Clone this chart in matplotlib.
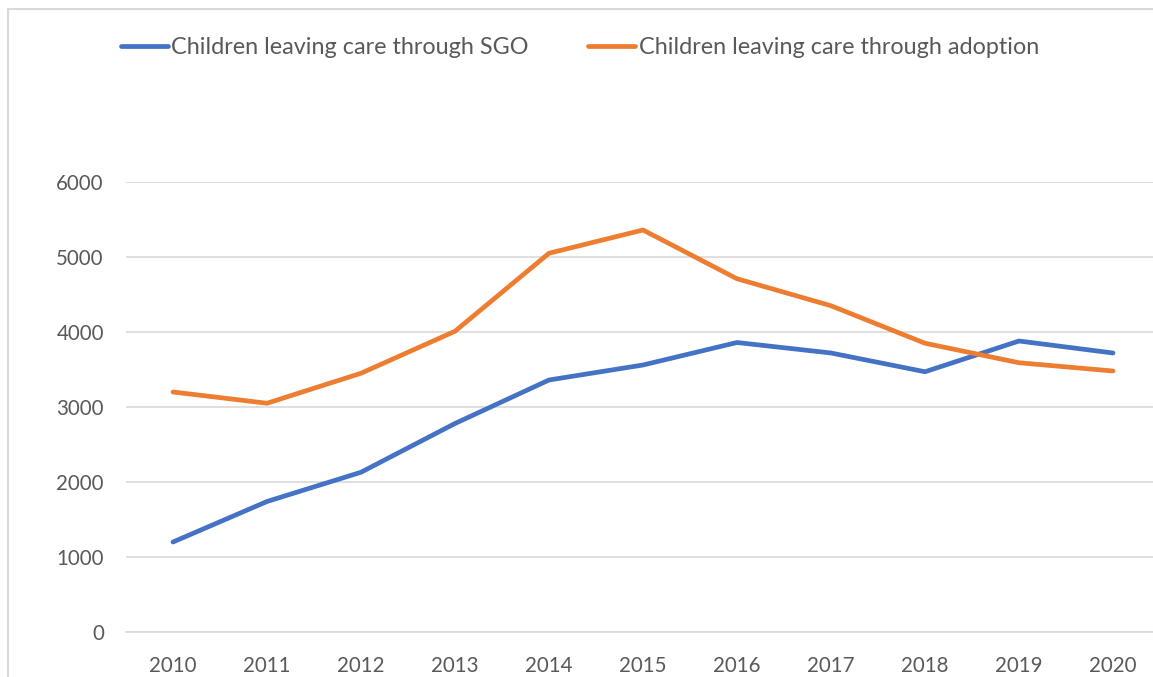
import matplotlib
matplotlib.use("Agg")
import matplotlib.pyplot as plt
from matplotlib.patches import Rectangle

years = ["2010", "2011", "2012", "2013", "2014", "2015", "2016", "2017", "2018", "2019", "2020"]
sgo = [1200, 1740, 2130, 2780, 3360, 3560, 3860, 3720, 3470, 3880, 3720]
adoption = [3200, 3050, 3450, 4010, 5050, 5360, 4710, 4350, 3850, 3590, 3480]
series_names = ["Children leaving care through SGO", "Children leaving care through adoption"]
yticks = [0, 1000, 2000, 3000, 4000, 5000, 6000]

plt.rcParams['font.family'] = ['Lato', 'DejaVu Sans']
W, H = 1153, 677
fig = plt.figure(figsize=(W / 100, H / 100), dpi=100)

# outer chart frame
fig.patches.append(Rectangle((8 / W, -0.1), 1.2, (H - 9) / H + 0.1, transform=fig.transFigure,
                             fill=False, edgecolor='#D9D9D9', linewidth=1.5))

ax = fig.add_axes([126 / W, (H - 632) / H, (1160 - 126) / W, (632 - 182) / H])
x = list(range(len(years)))
ax.plot(x, sgo, color='#4472C4', linewidth=3.4, solid_capstyle='round', solid_joinstyle='round',
        label=series_names[0])
ax.plot(x, adoption, color='#ED7D31', linewidth=3.4, solid_capstyle='round', solid_joinstyle='round',
        label=series_names[1])

ax.set_xlim(-0.5, len(years) - 0.5)
ax.set_ylim(0, 6000)
ax.set_yticks(yticks)
ax.set_yticklabels([str(v) for v in yticks])
ax.set_xticks(x)
ax.set_xticklabels(years)
ax.grid(axis='y', color='#D9D9D9', linewidth=1.2)
ax.set_axisbelow(True)
for s in ['top', 'right', 'left']:
    ax.spines[s].set_visible(False)
ax.spines['bottom'].set_color('#D9D9D9')
ax.spines['bottom'].set_linewidth(1.2)
ax.tick_params(axis='both', length=0, labelsize=14.8, colors='#595959')
ax.tick_params(axis='y', pad=16)
ax.tick_params(axis='x', pad=17)

leg = fig.legend(loc='center', bbox_to_anchor=(580 / W, 1 - 47.5 / H), ncol=2, frameon=False,
                 fontsize=16.8, handlelength=2.0, handletextpad=0.15, columnspacing=2.55,
                 borderaxespad=0)
for t in leg.get_texts():
    t.set_color('#595959')

fig.savefig('out.png', dpi=100)
